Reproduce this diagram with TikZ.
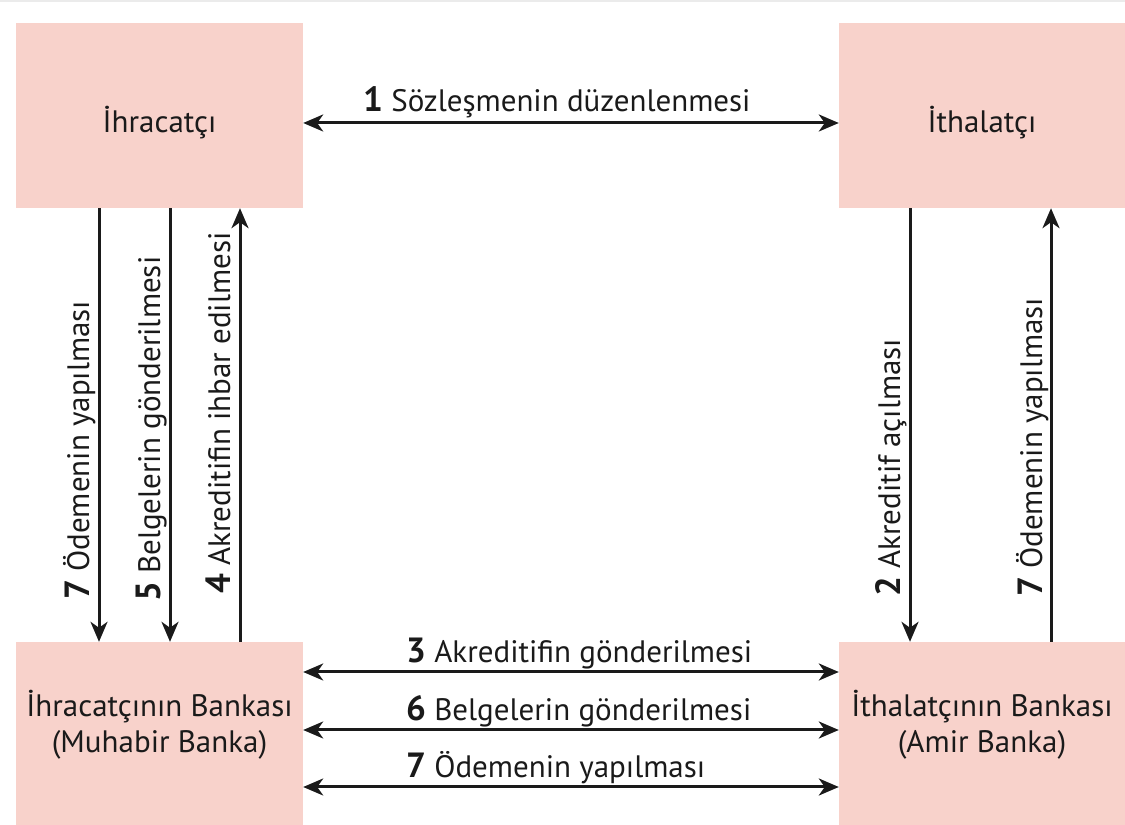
\documentclass[tikz,border=0pt]{standalone}
\usepackage{fontspec}
\setmainfont{PT Sans}
\usetikzlibrary{arrows.meta}
\definecolor{boxpink}{HTML}{F8D2CB}
\definecolor{ink}{HTML}{1A1A1A}
\definecolor{strip}{HTML}{EBEBEB}
\newcommand\stepno[1]{{\fontsize{35}{36}\selectfont\bfseries #1}}
\begin{document}
\begin{tikzpicture}[x=1pt,y=1pt,
  party/.style={fill=boxpink, draw=none, minimum width=287pt, minimum height=185pt, inner sep=0pt},
  boxtext/.style={inner sep=0pt, align=center, font=\fontsize{31}{36}\selectfont, text=ink},
  flow/.style={draw=ink, line width=3pt, -{Stealth[length=20pt,width=17pt,inset=6pt]}},
  both/.style={draw=ink, line width=3pt, {Stealth[length=20pt,width=17pt,inset=6pt]}-{Stealth[length=20pt,width=17pt,inset=6pt]}},
  lab/.style={inner sep=0pt, font=\fontsize{31}{36}\selectfont, text=ink},
  vlab/.style={lab, rotate=90, anchor=base west},
  hlab/.style={lab, anchor=base west}]

\useasboundingbox (0,0) rectangle (1125,825);
\fill[strip] (0,822.5) rectangle (1125,825);

\node[party, label={[boxtext, yshift=-7pt]center:İhracatçı}] (exp) at (159.5,709.5) {};
\node[party, minimum width=286pt, label={[boxtext, yshift=-7pt]center:İthalatçı}] (imp) at (982,709.5) {};
\node[party, minimum height=183pt, label={[boxtext, yshift=9pt]center:İhracatçının Bankası\\(Muhabir Banka)}] (expb) at (159.5,91.5) {};
\node[party, minimum width=286pt, minimum height=183pt, label={[boxtext, yshift=9pt]center:İthalatçının Bankası\\(Amir Banka)}] (impb) at (982,91.5) {};

\draw[flow] ([xshift=-60.5pt]exp.south) -- ([xshift=-60.5pt]expb.north);
\draw[flow] ([xshift=10.5pt]exp.south) -- ([xshift=10.5pt]expb.north);
\draw[flow] ([xshift=80.5pt]expb.north) -- ([xshift=80.5pt]exp.south);
\draw[flow] ([xshift=-72pt]imp.south) -- ([xshift=-72pt]impb.north);
\draw[flow] ([xshift=69pt]impb.north) -- ([xshift=69pt]imp.south);

\draw[both] ([yshift=-7.5pt]exp.east) -- ([yshift=-7.5pt]imp.west);
\draw[both] ([yshift=61.5pt]expb.east) -- ([yshift=61.5pt]impb.west);
\draw[both] ([yshift=3.5pt]expb.east) -- ([yshift=3.5pt]impb.west);
\draw[both] ([yshift=-53.5pt]expb.east) -- ([yshift=-53.5pt]impb.west);

\node[hlab] (l1) at (363,713) {\stepno{1} Sözleşmenin düzenlenmesi};
\node[hlab] (l3) at (406,162) {\stepno{3} Akreditifin gönderilmesi};
\node[hlab] (l6) at (406,104) {\stepno{6} Belgelerin gönderilmesi};
\node[hlab] (l7) at (406,47) {\stepno{7} Ödemenin yapılması};

\node[vlab] (v7a) at (89,225) {\stepno{7} Ödemenin yapılması};
\node[vlab] (v5) at (160,223) {\stepno{5} Belgelerin gönderilmesi};
\node[vlab] (v4) at (230,231) {\stepno{4} Akreditifin ihbar edilmesi};
\node[vlab] (v2) at (900,228) {\stepno{2} Akreditif açılması};
\node[vlab] (v7b) at (1042,228) {\stepno{7} Ödemenin yapılması};
\end{tikzpicture}
\end{document}
